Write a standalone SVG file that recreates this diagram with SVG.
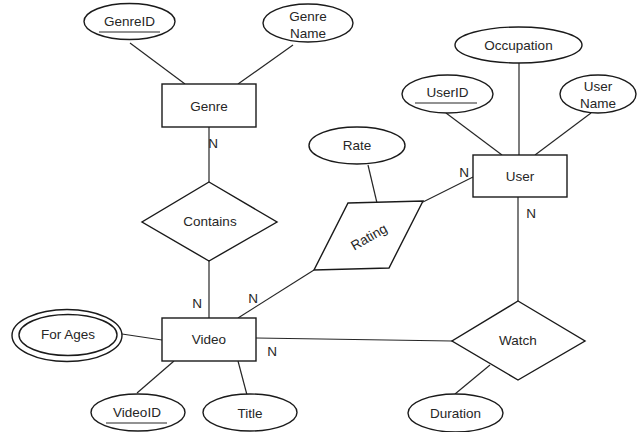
<svg xmlns="http://www.w3.org/2000/svg" width="642" height="432" viewBox="0 0 642 432">
  <style>
    .shape { fill: #ffffff; stroke: #1a1a1a; stroke-width: 1.4; }
    .edge { fill: none; stroke: #262626; stroke-width: 1.2; }
    .ul { stroke: #262626; stroke-width: 1.2; }
    text { font-family: "Liberation Sans", Arial, sans-serif; font-size: 13.5px; fill: #262626; text-anchor: middle; dominant-baseline: central; }
  </style>
  <rect width="642" height="432" fill="#ffffff"/>

  <!-- connectors -->
  <g id="connectors">
    <line class="edge" x1="130" y1="43" x2="185" y2="84"/>
    <line class="edge" x1="293" y1="45" x2="238" y2="84"/>
    <line class="edge" x1="209" y1="127" x2="209" y2="182"/>
    <line class="edge" x1="209" y1="261" x2="209" y2="318"/>
    <line class="edge" x1="519" y1="63" x2="519" y2="155"/>
    <line class="edge" x1="446" y1="113" x2="502" y2="155"/>
    <line class="edge" x1="591" y1="113" x2="535" y2="155"/>
    <line class="edge" x1="423" y1="202" x2="473" y2="177"/>
    <line class="edge" x1="368" y1="165" x2="377" y2="203"/>
    <line class="edge" x1="314" y1="270" x2="238" y2="318"/>
    <line class="edge" x1="518" y1="197" x2="518" y2="301"/>
    <line class="edge" x1="256" y1="338" x2="452" y2="341"/>
    <line class="edge" x1="455" y1="394" x2="490" y2="365"/>
    <line class="edge" x1="122" y1="334" x2="162" y2="340"/>
    <line class="edge" x1="137" y1="393" x2="174" y2="361"/>
    <line class="edge" x1="238" y1="361" x2="247" y2="395"/>
    <text x="213" y="143">N</text>
    <text x="197" y="303">N</text>
    <text x="253" y="298">N</text>
    <text x="272" y="351">N</text>
    <text x="464" y="172">N</text>
    <text x="531" y="213">N</text>
  </g>

  <!-- Genre entity and attributes -->
  <g id="genre">
    <rect class="shape" x="162" y="84" width="94" height="43"/>
    <text x="209" y="106">Genre</text>
  </g>
  <g id="genre-id">
    <ellipse class="shape" cx="129.5" cy="21.5" rx="45.5" ry="18"/>
    <text x="129.5" y="21">GenreID</text>
    <line class="ul" x1="99" y1="32" x2="160" y2="32"/>
  </g>
  <g id="genre-name">
    <ellipse class="shape" cx="308" cy="23" rx="45" ry="19"/>
    <text x="308" y="16">Genre</text>
    <text x="308" y="33">Name</text>
  </g>

  <!-- Contains relationship -->
  <g id="contains">
    <polygon class="shape" points="209,182 277,222 209,261 142,222"/>
    <text x="210" y="221">Contains</text>
  </g>

  <!-- User entity and attributes -->
  <g id="user">
    <rect class="shape" x="473" y="155" width="94" height="42"/>
    <text x="520" y="176">User</text>
  </g>
  <g id="occupation">
    <ellipse class="shape" cx="518.5" cy="45" rx="63.5" ry="18"/>
    <text x="518.5" y="45">Occupation</text>
  </g>
  <g id="user-id">
    <ellipse class="shape" cx="447.5" cy="94" rx="45.5" ry="19"/>
    <text x="447.5" y="92">UserID</text>
    <line class="ul" x1="415" y1="103" x2="477" y2="103"/>
  </g>
  <g id="user-name">
    <ellipse class="shape" cx="598" cy="94" rx="38" ry="19"/>
    <text x="598" y="86">User</text>
    <text x="598" y="103">Name</text>
  </g>

  <!-- Rating relationship -->
  <g id="rate">
    <ellipse class="shape" cx="357" cy="145.5" rx="48" ry="18.5"/>
    <text x="357" y="145">Rate</text>
  </g>
  <g id="rating">
    <polygon class="shape" points="348,203 423,201 389,268 314,270"/>
    <text x="369" y="237" transform="rotate(-30 369 237)">Rating</text>
  </g>

  <!-- Video entity and attributes -->
  <g id="video">
    <rect class="shape" x="162" y="318" width="94" height="43"/>
    <text x="209" y="339">Video</text>
  </g>
  <g id="for-ages">
    <ellipse class="shape" cx="67" cy="335.5" rx="55" ry="26"/>
    <ellipse class="shape" cx="68" cy="335" rx="49" ry="20.5"/>
    <text x="68" y="334">For Ages</text>
  </g>
  <g id="video-id">
    <ellipse class="shape" cx="138" cy="412.5" rx="47" ry="18.5"/>
    <text x="137" y="412">VideoID</text>
    <line class="ul" x1="106" y1="423" x2="167" y2="423"/>
  </g>
  <g id="title">
    <ellipse class="shape" cx="250" cy="412.5" rx="47" ry="18.5"/>
    <text x="250" y="413">Title</text>
  </g>

  <!-- Watch relationship -->
  <g id="watch">
    <polygon class="shape" points="518,301 585,341 518,380 452,341"/>
    <text x="518" y="340">Watch</text>
  </g>
  <g id="duration">
    <ellipse class="shape" cx="455.5" cy="413" rx="47.5" ry="19"/>
    <text x="455.5" y="413">Duration</text>
  </g>
</svg>
